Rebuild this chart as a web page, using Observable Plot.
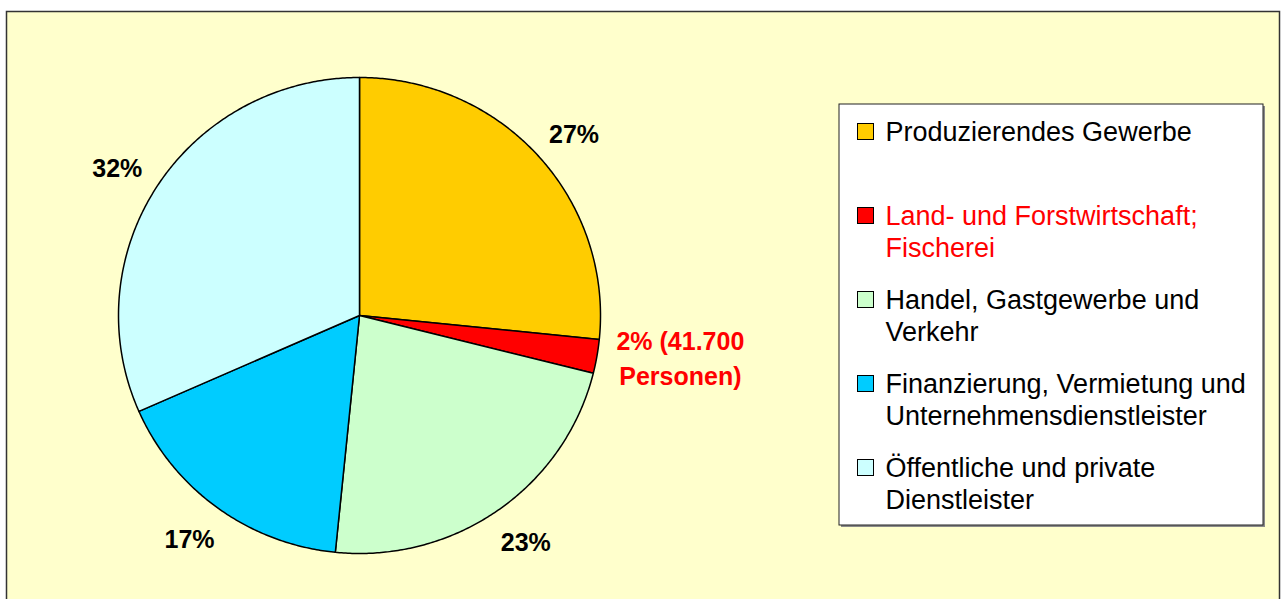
<!DOCTYPE html>
<html>
<head>
<meta charset="utf-8">
<script src="https://cdn.jsdelivr.net/npm/d3@7"></script>
<script src="https://cdn.jsdelivr.net/npm/@observablehq/plot@0.6"></script>
<style>
  html, body { margin: 0; padding: 0; background: #ffffff; overflow: hidden; }
  #chart svg { display: block; }
</style>
</head>
<body>
<div id="chart"></div>
<script>
// ---- Data ----
const categories = [
  "Produzierendes Gewerbe",
  "Land- und Forstwirtschaft; Fischerei",
  "Handel, Gastgewerbe und Verkehr",
  "Finanzierung, Vermietung und Unternehmensdienstleister",
  "Öffentliche und private Dienstleister"
];
const legendLabels = [
  "Produzierendes Gewerbe",
  "Land- und Forstwirtschaft;\nFischerei",
  "Handel, Gastgewerbe und\nVerkehr",
  "Finanzierung, Vermietung und\nUnternehmensdienstleister",
  "Öffentliche und private\nDienstleister"
];
const shares = [26.6, 2.3, 22.7, 16.8, 31.6];
const pctLabels = ["27%", "2% (41.700\nPersonen)", "23%", "17%", "32%"];
const sliceColors = ["#FFCC00", "#FF0000", "#CCFFCC", "#00CCFF", "#CCFFFF"];
const legendTextColors = ["#000000", "#FF0000", "#000000", "#000000", "#000000"];
const pctTextColors = ["#000000", "#FF0000", "#000000", "#000000", "#000000"];

// ---- Layout (pixel-like coordinates) ----
const W = 1282, H = 599;
const cx = 359, cy = 315, rx = 241, ry = 238;

const pie = d3.pie().sort(null).value(d => d)(shares);

function polar(a, k) { return {x: cx + Math.sin(a) * rx * k, y: cy - Math.cos(a) * ry * k}; }

const sliceMarks = pie.map((p, i) => {
  const pts = [{x: cx, y: cy}];
  const n = Math.max(2, Math.ceil((p.endAngle - p.startAngle) / (Math.PI / 360)));
  for (let j = 0; j <= n; j++) {
    const a = p.startAngle + (p.endAngle - p.startAngle) * j / n;
    pts.push(polar(a, 1));
  }
  return Plot.line(pts, {x: "x", y: "y", curve: "linear-closed", fill: sliceColors[i], stroke: "#000", strokeWidth: 1.5, strokeLinejoin: "round"});
});

const labelData = pie.map((p, i) => {
  const a = (p.startAngle + p.endAngle) / 2;
  const multi = pctLabels[i].includes("\n");
  return {
    x: cx + Math.sin(a) * rx * 1.2 + (multi ? 36 : 0),
    y: cy - Math.cos(a) * ry * 1.15 + (multi ? -6 : 0),
    text: pctLabels[i],
    color: pctTextColors[i]
  };
});

const legendTop = 121, legendStep = 84;
const legendData = legendLabels.map((t, i) => ({
  text: t,
  y: legendTop + legendStep * i,
  color: legendTextColors[i],
  fill: sliceColors[i]
}));

const frame = [{x1: 6.5, x2: 1279.5, y1: 11.5, y2: 640}];
const legendBox = [{x1: 839, x2: 1263, y1: 104, y2: 525}];

const chart = Plot.plot({
  width: W,
  height: H,
  margin: 0,
  x: {domain: [0, W], range: [0, W], axis: null},
  y: {domain: [0, H], range: [0, H], axis: null},
  style: {background: "#ffffff", fontFamily: "'Liberation Sans', Arial, sans-serif", overflow: "hidden"},
  marks: [
    Plot.rect(frame, {x1: "x1", x2: "x2", y1: "y1", y2: "y2", fill: "#FFFFCC", stroke: "#333333", strokeWidth: 1.5}),
    ...sliceMarks,
    Plot.text(labelData, {x: "x", y: "y", text: "text", fill: "color", fontSize: 25, fontWeight: "bold", lineAnchor: "middle", lineHeight: 1.4, textAnchor: "middle"}),
    // legend shadow + box
    Plot.rect(legendBox, {x1: d => d.x1 + 2, x2: d => d.x2 + 2, y1: d => d.y1 + 2, y2: d => d.y2 + 2, fill: "#8a8a8a"}),
    Plot.rect(legendBox, {x1: "x1", x2: "x2", y1: "y1", y2: "y2", fill: "#ffffff", stroke: "#222222", strokeWidth: 1}),
    Plot.rect(legendData, {x1: () => 857.5, x2: () => 873.5, y1: d => d.y + 2.5, y2: d => d.y + 18.5, fill: "fill", stroke: "#000", strokeWidth: 1}),
    Plot.text(legendData, {x: () => 885, y: d => d.y - 4, text: "text", fill: "color", fontSize: 27, textAnchor: "start", lineAnchor: "top", lineHeight: 1.2})
  ]
});
document.getElementById("chart").appendChild(chart);
</script>
</body>
</html>
